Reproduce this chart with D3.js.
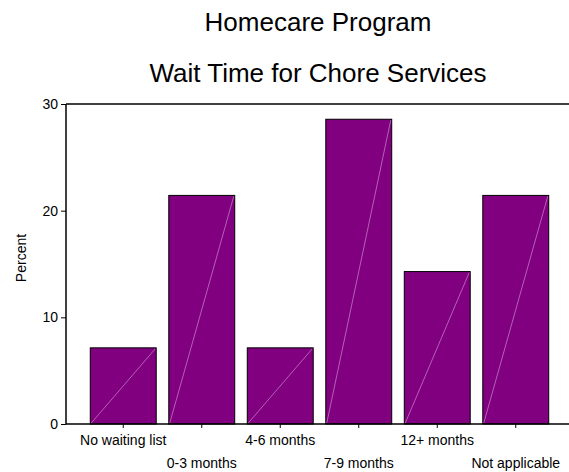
<!DOCTYPE html>
<html>
<head>
<meta charset="utf-8">
<script src="https://cdn.jsdelivr.net/npm/d3@7"></script>
<style>
  html, body { margin: 0; padding: 0; background: #ffffff; }
  svg { display: block; font-family: Arial, "Liberation Sans", sans-serif; }
</style>
</head>
<body>
<svg id="chart" width="569" height="472"></svg>
<script>
const categories = ["No waiting list", "0-3 months", "4-6 months", "7-9 months", "12+ months", "Not applicable"];
const percentValues = [7.14, 21.43, 7.14, 28.57, 14.29, 21.43];
const yTickValues = [0, 10, 20, 30];
const titleLines = ["Homecare Program", "Wait Time for Chore Services"];
const yAxisLabel = "Percent";

const svg = d3.select("#chart");
const plotLeft = 66, plotRight = 569, plotTop = 104, plotBottom = 424;

const x = d3.scaleBand().domain(categories).range([84, 555]).paddingInner(0.16).paddingOuter(0.08);
const y = d3.scaleLinear().domain([0, 30]).range([plotBottom, plotTop]);

// title
svg.selectAll("text.title").data(titleLines).join("text")
  .attr("class", "title")
  .attr("x", 318)
  .attr("y", (d, i) => 31 + i * 51)
  .attr("text-anchor", "middle")
  .attr("font-size", 26)
  .attr("fill", "#000")
  .text(d => d);

// top frame line
svg.append("line")
  .attr("x1", plotLeft).attr("x2", plotRight)
  .attr("y1", y(30)).attr("y2", y(30))
  .attr("stroke", "#404040").attr("stroke-width", 2);

// bars
const bars = svg.append("g");
bars.selectAll("rect").data(percentValues).join("rect")
  .attr("x", (d, i) => x(categories[i]))
  .attr("y", d => y(d))
  .attr("width", x.bandwidth())
  .attr("height", d => y(0) - y(d))
  .attr("fill", "#800080")
  .attr("stroke", "#000")
  .attr("stroke-width", 1);
bars.selectAll("line").data(percentValues).join("line")
  .attr("x1", (d, i) => x(categories[i]) + 1)
  .attr("y1", y(0) - 1)
  .attr("x2", (d, i) => x(categories[i]) + x.bandwidth() - 1)
  .attr("y2", d => y(d) + 1)
  .attr("stroke", "#d8a0d8")
  .attr("stroke-width", 0.6);

// y axis
const yAxis = svg.append("g")
  .attr("transform", `translate(${plotLeft},0)`)
  .call(d3.axisLeft(y).tickValues(yTickValues).tickFormat(d3.format("d")).tickSize(5).tickPadding(3));
yAxis.select(".domain").attr("stroke", "#000").attr("stroke-width", 1.5).attr("d", `M0,${plotTop}V${plotBottom}`);
yAxis.selectAll(".tick line").attr("stroke", "#000");
yAxis.selectAll(".tick text").attr("font-size", 14).attr("font-family", "Arial, 'Liberation Sans', sans-serif").attr("fill", "#000");

// x axis
const xAxis = svg.append("g")
  .attr("transform", `translate(0,${plotBottom})`)
  .call(d3.axisBottom(x).tickSize(4).tickPadding(4));
xAxis.select(".domain").attr("stroke", "#000").attr("stroke-width", 1.5).attr("d", `M${plotLeft},0H${plotRight}`);
xAxis.selectAll(".tick line").attr("stroke", "#000");
xAxis.selectAll(".tick text")
  .attr("font-size", 14)
  .attr("font-family", "Arial, 'Liberation Sans', sans-serif")
  .attr("fill", "#000")
  .attr("dy", null)
  .attr("y", (d, i) => i % 2 === 0 ? 21 : 44);

// y label
svg.append("text")
  .attr("transform", "translate(26,258) rotate(-90)")
  .attr("text-anchor", "middle")
  .attr("font-size", 14)
  .attr("fill", "#000")
  .text(yAxisLabel);
</script>
</body>
</html>
